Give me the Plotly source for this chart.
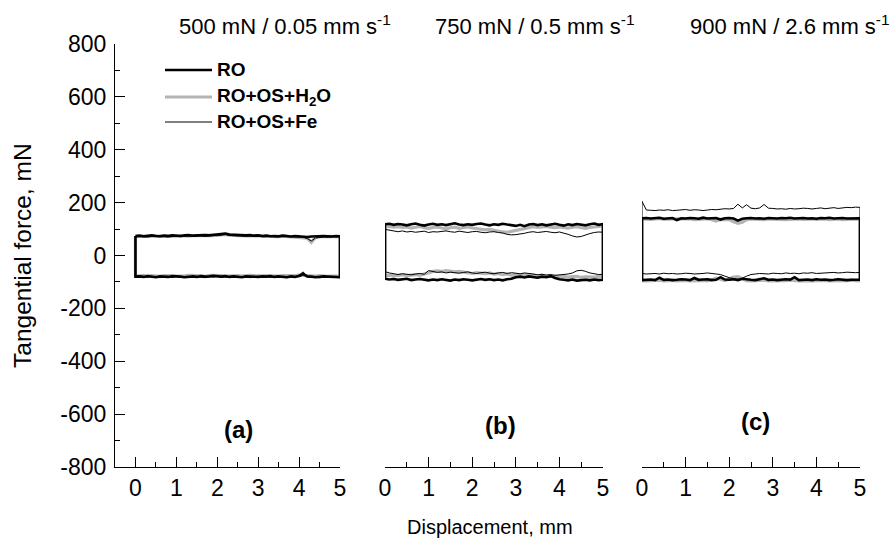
import plotly.graph_objects as go

# Displacement grid (mm) shared by every stroke
DISP = [0.0, 0.1, 0.2, 0.3, 0.4, 0.5, 0.6, 0.7, 0.8, 0.9,
        1.0, 1.1, 1.2, 1.3, 1.4, 1.5, 1.6, 1.7, 1.8, 1.9,
        2.0, 2.1, 2.2, 2.3, 2.4, 2.5, 2.6, 2.7, 2.8, 2.9,
        3.0, 3.1, 3.2, 3.3, 3.4, 3.5, 3.6, 3.7, 3.8, 3.9,
        4.0, 4.1, 4.2, 4.3, 4.4, 4.5, 4.6, 4.7, 4.8, 4.9, 5.0]

SERIES = ["RO", "RO+OS+H<sub>2</sub>O", "RO+OS+Fe"]
PANEL_TITLES = ["500 mN / 0.05 mm s<sup>-1</sup>",
                "750 mN / 0.5 mm s<sup>-1</sup>",
                "900 mN / 2.6 mm s<sup>-1</sup>"]
PANEL_TAGS = ["(a)", "(b)", "(c)"]
X_TICKS = [0, 1, 2, 3, 4, 5]
Y_TICKS = [-800, -600, -400, -200, 0, 200, 400, 600, 800]

# Tangential force (mN): forward stroke (top) and return stroke (bottom)
# (a) 500 mN / 0.05 mm/s
A_RO_TOP = [74, 75, 73, 74, 76, 74, 73, 75, 74, 76, 75, 74, 76, 77, 75, 76, 78,
            77, 76, 78, 79, 80, 83, 79, 78, 77, 78, 76, 77, 75, 76, 74, 75, 73,
            74, 73, 75, 74, 72, 74, 73, 72, 70, 72, 73, 72, 74, 73, 72, 74, 73]
A_RO_BOT = [-80, -79, -81, -78, -80, -82, -79, -80, -81, -78, -79, -80, -82,
            -80, -79, -81, -78, -80, -79, -77, -79, -80, -78, -81, -79, -80,
            -82, -79, -78, -80, -81, -79, -80, -78, -81, -79, -80, -82, -79,
            -81, -78, -70, -79, -80, -82, -81, -79, -80, -82, -81, -82]
A_H2O_TOP = [72, 71, 73, 72, 74, 73, 71, 73, 74, 72, 73, 75, 74, 73, 75, 76,
             75, 77, 76, 75, 77, 78, 80, 77, 76, 75, 76, 74, 75, 73, 74, 73,
             72, 74, 72, 71, 73, 72, 71, 72, 71, 70, 66, 50, 68, 71, 72, 70,
             72, 71, 72]
A_H2O_BOT = [-76, -77, -75, -78, -76, -77, -79, -76, -75, -77, -78, -76, -77,
             -75, -78, -76, -77, -79, -76, -75, -77, -76, -78, -75, -77, -76,
             -78, -77, -75, -76, -78, -77, -76, -75, -77, -78, -76, -77, -75,
             -76, -74, -72, -76, -77, -78, -76, -77, -79, -78, -77, -78]
A_FE_TOP = [70, 72, 71, 70, 72, 73, 71, 72, 70, 72, 73, 71, 73, 74, 72, 74,
            75, 73, 75, 76, 75, 77, 79, 76, 75, 74, 75, 73, 74, 72, 73, 71,
            72, 73, 71, 70, 72, 71, 70, 71, 70, 69, 64, 55, 66, 69, 70, 69,
            71, 70, 71]
A_FE_BOT = [-82, -80, -83, -81, -79, -82, -84, -80, -81, -83, -79, -82, -80,
            -83, -81, -79, -82, -84, -80, -81, -79, -82, -80, -83, -81, -79,
            -82, -80, -84, -81, -80, -82, -79, -83, -81, -80, -82, -84, -81,
            -80, -74, -62, -80, -83, -81, -84, -82, -80, -83, -82, -84]

# (b) 750 mN / 0.5 mm/s
B_RO_TOP = [118, 120, 116, 119, 117, 114, 118, 121, 116, 113, 117, 120, 116,
            118, 115, 119, 122, 117, 115, 118, 116, 119, 121, 117, 114, 118,
            116, 120, 117, 115, 112, 116, 111, 117, 119, 115, 118, 114, 117,
            120, 116, 113, 118, 115, 119, 117, 114, 118, 121, 116, 119]
B_RO_BOT = [-88, -91, -89, -92, -90, -88, -93, -91, -89, -92, -94, -91, -93,
            -90, -92, -95, -91, -93, -90, -92, -94, -91, -89, -92, -90, -93,
            -91, -94, -90, -88, -82, -80, -83, -79, -81, -84, -80, -82, -78,
            -85, -90, -92, -94, -91, -95, -93, -92, -94, -91, -93, -92]
B_H2O_TOP = [112, 110, 107, 109, 106, 108, 104, 107, 110, 105, 103, 106, 108,
             104, 101, 105, 107, 103, 106, 108, 104, 102, 100, 97, 99, 95, 92,
             89, 88, 92, 96, 100, 104, 107, 109, 106, 108, 110, 107, 105, 108,
             106, 104, 107, 109, 105, 103, 106, 108, 110, 112]
B_H2O_BOT = [-76, -74, -77, -75, -73, -76, -74, -72, -75, -70, -64, -60, -58,
             -61, -57, -59, -62, -60, -64, -66, -68, -65, -67, -69, -66, -70,
             -68, -72, -70, -74, -73, -75, -72, -76, -74, -77, -75, -78, -80,
             -79, -81, -78, -82, -80, -79, -83, -81, -80, -82, -79, -81]
B_FE_TOP = [99, 95, 92, 90, 93, 89, 91, 88, 90, 92, 87, 90, 89, 91, 93, 90,
            88, 92, 89, 87, 90, 91, 88, 86, 89, 90, 87, 85, 80, 78, 79, 81,
            84, 88, 90, 87, 89, 91, 88, 86, 89, 85, 80, 74, 70, 72, 78, 83,
            87, 89, 88]
B_FE_BOT = [-61, -66, -70, -72, -69, -71, -73, -70, -68, -71, -57, -60, -64,
            -62, -66, -63, -65, -67, -64, -62, -66, -68, -65, -63, -67, -69,
            -66, -64, -68, -65, -67, -69, -66, -68, -70, -73, -71, -74, -72,
            -75, -74, -72, -70, -66, -58, -56, -60, -66, -70, -72, -71]

# (c) 900 mN / 2.6 mm/s
C_RO_TOP = [141, 142, 140, 141, 143, 139, 141, 142, 134, 141, 140, 142, 141,
            139, 143, 140, 141, 142, 136, 141, 142, 140, 132, 139, 141, 142,
            140, 141, 139, 142, 141, 140, 142, 141, 143, 140, 141, 142, 140,
            141, 139, 142, 141, 143, 140, 141, 142, 140, 141, 142, 141]
C_RO_BOT = [-93, -92, -91, -93, -84, -92, -91, -93, -92, -90, -91, -93, -85,
            -92, -91, -90, -93, -92, -82, -91, -92, -90, -93, -88, -91, -92,
            -93, -90, -86, -92, -91, -93, -92, -90, -91, -82, -93, -92, -91,
            -93, -90, -92, -91, -93, -92, -90, -91, -93, -92, -91, -92]
C_H2O_TOP = [138, 139, 137, 138, 140, 137, 136, 138, 139, 137, 138, 139, 136,
             137, 138, 139, 135, 130, 137, 138, 136, 128, 122, 126, 136, 138,
             137, 139, 136, 138, 137, 139, 138, 136, 137, 139, 138, 137, 136,
             138, 137, 139, 138, 136, 137, 138, 136, 137, 139, 138, 137]
C_H2O_BOT = [-95, -96, -94, -95, -93, -96, -95, -94, -96, -95, -94, -96, -93,
             -95, -94, -96, -92, -86, -90, -95, -88, -82, -80, -88, -95, -96,
             -94, -95, -93, -96, -95, -94, -96, -95, -93, -94, -96, -95, -94,
             -96, -95, -93, -94, -96, -95, -94, -96, -95, -93, -95, -96]
C_FE_TOP = [205, 172, 171, 170, 172, 171, 173, 170, 171, 172, 174, 171, 173,
            172, 170, 172, 174, 173, 175, 177, 176, 178, 194, 180, 192, 179,
            177, 180, 193, 179, 178, 176, 177, 175, 178, 176, 177, 179, 178,
            176, 178, 180, 177, 179, 181, 178, 180, 182, 181, 183, 182]
C_FE_BOT = [-68, -70, -69, -68, -70, -67, -69, -68, -70, -69, -67, -68, -70,
            -69, -68, -66, -68, -70, -72, -78, -84, -88, -90, -86, -78, -72,
            -70, -68, -69, -70, -67, -68, -69, -66, -68, -67, -69, -66, -67,
            -65, -68, -66, -67, -65, -64, -66, -65, -63, -64, -65, -64]

PANELS = [
    [(A_RO_TOP, A_RO_BOT), (A_H2O_TOP, A_H2O_BOT), (A_FE_TOP, A_FE_BOT)],
    [(B_RO_TOP, B_RO_BOT), (B_H2O_TOP, B_H2O_BOT), (B_FE_TOP, B_FE_BOT)],
    [(C_RO_TOP, C_RO_BOT), (C_H2O_TOP, C_H2O_BOT), (C_FE_TOP, C_FE_BOT)],
]

# line style per series: (colour, width); grey drawn first, thin Fe on top
STYLE = {0: ("#000000", 2.6), 1: ("#b4b4b4", 3.2), 2: ("#000000", 1.0)}
DRAW_ORDER = [1, 0, 2]

W, H = 896, 558
FONT = "Liberation Sans, Arial, sans-serif"

# axis placement in pixels -> paper fractions
X_PIX = [(115, 340), (385, 603), (642, 860)]
X_RANGES = [[-0.5, 5.0], [0.0, 5.0], [0.0, 5.0]]
Y_TOP, Y_BOT = 44, 467


def px(x):
    return x / W


def py(y):
    return 1 - y / H


fig = go.Figure()

for p, series in enumerate(PANELS):
    xa = "x" if p == 0 else f"x{p + 1}"
    for s in DRAW_ORDER:
        top, bot = series[s]
        xs = list(DISP) + list(reversed(DISP)) + [DISP[0]]
        ys = list(top) + list(reversed(bot)) + [top[0]]
        color, width = STYLE[s]
        fig.add_trace(go.Scatter(
            x=xs, y=ys, mode="lines", xaxis=xa, yaxis="y",
            line=dict(color=color, width=width, shape="linear"),
            name=SERIES[s], showlegend=False, hoverinfo="skip"))

axis_common = dict(
    showgrid=False, zeroline=False, showline=True, linecolor="#000000",
    linewidth=1, ticks="inside", ticklen=10, tickcolor="#000000",
    tickwidth=1, mirror=False, automargin=False,
)

layout = dict(
    width=W, height=H,
    margin=dict(l=0, r=0, t=0, b=0, pad=0, autoexpand=False),
    paper_bgcolor="white", plot_bgcolor="rgba(0,0,0,0)",
    font=dict(family=FONT, color="#000000"),
    showlegend=False,
)

for p in range(3):
    key = "xaxis" if p == 0 else f"xaxis{p + 1}"
    x0, x1 = X_PIX[p]
    layout[key] = dict(
        axis_common, domain=[px(x0), px(x1)], range=X_RANGES[p],
        anchor="y", tickvals=X_TICKS, ticktext=[str(v) for v in X_TICKS],
        tickfont=dict(size=23, family=FONT), ticklabelstandoff=0,
        minor=dict(ticks="inside", ticklen=5, dtick=0.5, tick0=0,
                   tickcolor="#000000", showgrid=False),
    )

layout["yaxis"] = dict(
    axis_common, domain=[py(Y_BOT), py(Y_TOP)], range=[-800, 800],
    anchor="x", tickvals=Y_TICKS,
    ticktext=[str(v) for v in Y_TICKS], tickfont=dict(size=23, family=FONT),
    ticklabelstandoff=3,
    minor=dict(ticks="inside", ticklen=5, dtick=100, tick0=0,
               tickcolor="#000000", showgrid=False),
)
fig.update_layout(**layout)

annotations = []
# condition labels above each panel
title_x = [285, 535, 790]
for p in range(3):
    annotations.append(dict(
        x=px(title_x[p]), y=py(25), xref="paper", yref="paper",
        text=PANEL_TITLES[p], showarrow=False, xanchor="center",
        yanchor="middle", font=dict(size=22, family=FONT)))

# panel tags
tag_xy = [(238, 430), (500, 425), (755, 421)]
for p in range(3):
    annotations.append(dict(
        x=px(tag_xy[p][0]), y=py(tag_xy[p][1]), xref="paper", yref="paper",
        text=f"<b>{PANEL_TAGS[p]}</b>", showarrow=False, xanchor="center",
        yanchor="middle", font=dict(size=24, family=FONT)))

# axis titles
annotations.append(dict(
    x=px(490), y=py(527), xref="paper", yref="paper",
    text="Displacement, mm", showarrow=False, xanchor="center",
    yanchor="middle", font=dict(size=20, family=FONT)))
annotations.append(dict(
    x=px(22), y=py(256), xref="paper", yref="paper",
    text="Tangential force, mN", showarrow=False, textangle=-90,
    xanchor="center", yanchor="middle", font=dict(size=24.5, family=FONT)))

# legend, drawn inside panel (a)
leg_rows = [70, 97, 122]
shapes = []
for s, row in enumerate(leg_rows):
    color, width = STYLE[s]
    shapes.append(dict(
        type="line", xref="paper", yref="paper",
        x0=px(165), x1=px(212), y0=py(row), y1=py(row),
        line=dict(color=color, width=width)))
    annotations.append(dict(
        x=px(215), y=py(row), xref="paper", yref="paper",
        text=f"<b>{SERIES[s]}</b>", showarrow=False, xanchor="left",
        yanchor="middle", font=dict(size=19, family=FONT)))

fig.update_layout(annotations=annotations, shapes=shapes)
fig.write_html("out.html")
